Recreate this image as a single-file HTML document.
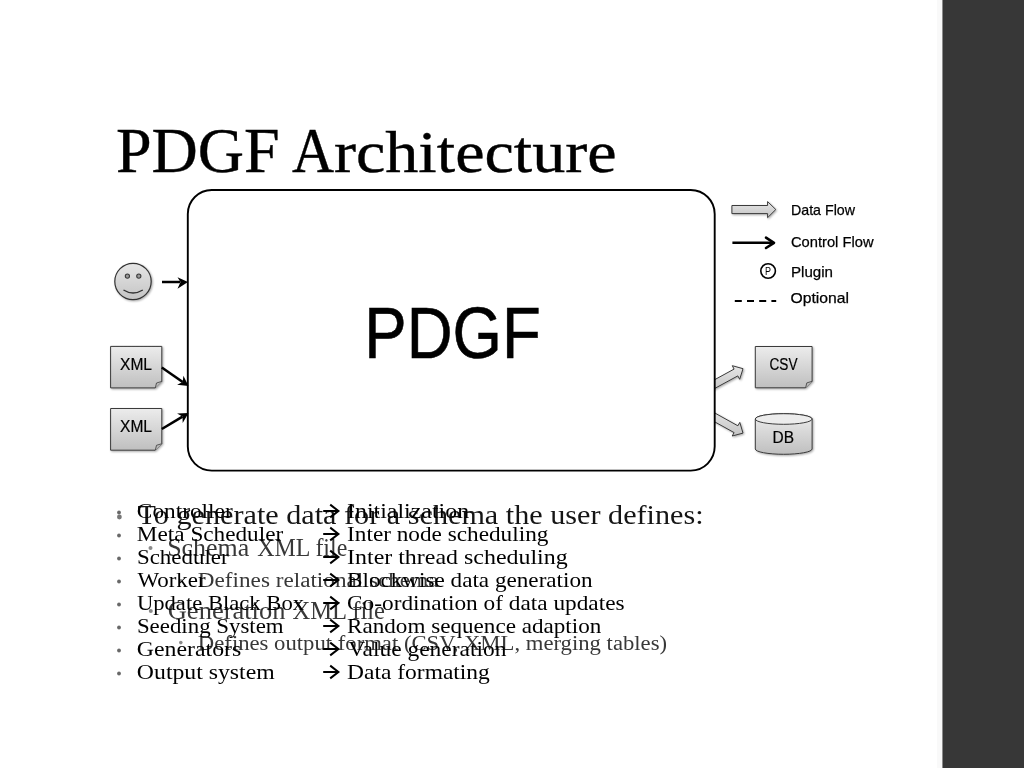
<!DOCTYPE html>
<html><head><meta charset="utf-8">
<style>
html,body{margin:0;padding:0;}
body{width:1024px;height:768px;position:relative;overflow:hidden;background:#fff;}
svg{position:absolute;left:0;top:0;will-change:transform;}
.serif{font-family:"Liberation Serif",serif;}
.sans{font-family:"Liberation Sans",sans-serif;}
</style></head>
<body>
<svg width="1024" height="768" viewBox="0 0 1024 768">
<defs>
  <linearGradient id="g1" x1="0" y1="0" x2="0" y2="1">
    <stop offset="0" stop-color="#ececec"/>
    <stop offset="1" stop-color="#bfbfbf"/>
  </linearGradient>
  <linearGradient id="g2" x1="0" y1="0" x2="0" y2="1">
    <stop offset="0" stop-color="#e6e6e6"/>
    <stop offset="1" stop-color="#c4c4c4"/>
  </linearGradient>
  <filter id="sh" x="-20%" y="-20%" width="150%" height="150%">
    <feGaussianBlur in="SourceAlpha" stdDeviation="1"/>
    <feOffset dx="1" dy="1" result="b"/>
    <feComponentTransfer><feFuncA type="linear" slope="0.35"/></feComponentTransfer>
    <feMerge><feMergeNode/><feMergeNode in="SourceGraphic"/></feMerge>
  </filter>
</defs>

<!-- right dark bar -->
<rect x="943" y="0" width="81" height="768" fill="#373737"/>
<rect x="937" y="0" width="5" height="768" fill="#f9f9f9"/>
<rect x="942" y="0" width="1" height="768" fill="#8c8c8c"/>

<!--TITLE-->
<text class="serif" x="116.00" y="172.2" font-size="64" textLength="163.73" lengthAdjust="spacingAndGlyphs" fill="#000" stroke="#000" stroke-width="0.4">PDGF</text>
<text class="serif" x="292.00" y="172.2" font-size="64" textLength="42.00" lengthAdjust="spacingAndGlyphs" fill="#000" stroke="#000" stroke-width="0.4">A</text>
<text class="serif" x="333.90" y="172.2" font-size="60" textLength="282.85" lengthAdjust="spacingAndGlyphs" fill="#000" stroke="#000" stroke-width="0.4">rchitecture</text>
<!--/TITLE-->

<!-- data flow arrows right (under box) -->
<g filter="url(#sh)" fill="url(#g2)" stroke="#3a3a3a" stroke-width="1">
  <polygon points="709.7,391.2 737.8,375.9 739.7,379.3 743.0,368.7 732.3,365.7 734.1,369.1 706.0,384.4"/>
  <polygon points="706.1,417.1 734.1,432.6 732.2,436.0 743.0,433.1 739.8,422.4 737.9,425.8 709.9,410.3"/>
</g>

<!-- main box -->
<rect x="187.8" y="190" width="526.9" height="280.6" rx="24" ry="24" fill="#fff" stroke="#000" stroke-width="1.9"/>
<text class="sans" x="364.3" y="357.8" font-size="73" textLength="176.4" lengthAdjust="spacingAndGlyphs" fill="#000" stroke="#000" stroke-width="0.6">PDGF</text>

<!-- smiley -->
<g filter="url(#sh)">
  <circle cx="133" cy="281.5" r="18.2" fill="url(#g2)" stroke="#333" stroke-width="1.2"/>
</g>
<circle cx="127.4" cy="276.1" r="2.1" fill="#9a9a9a" stroke="#3a3a3a" stroke-width="1.1"/>
<circle cx="138.8" cy="276.1" r="2.1" fill="#9a9a9a" stroke="#3a3a3a" stroke-width="1.1"/>
<path d="M123.5,290 Q133,296 142.8,290" fill="none" stroke="#333" stroke-width="1.3"/>
<!-- smiley arrow -->
<line x1="162" y1="282" x2="180" y2="282" stroke="#000" stroke-width="2.5"/>
<polygon points="177.5,277.3 188,282 177.5,288.7 180.5,282" fill="#000"/>

<!-- XML docs -->
<g filter="url(#sh)">
  <path d="M110.6,346.4 H161.8 V381.4 L155.3,387.9 H110.6 Z" fill="url(#g1)" stroke="#3a3a3a" stroke-width="1"/>
  <path d="M110.6,408.5 H161.8 V443.7 L155.3,450.2 H110.6 Z" fill="url(#g1)" stroke="#3a3a3a" stroke-width="1"/>
  <path d="M755.3,346.5 H812.1 V381.3 L805.6,387.8 H755.3 Z" fill="url(#g1)" stroke="#3a3a3a" stroke-width="1"/>
</g>
<path d="M155.3,387.9 L156.5,383 L161.8,381.4" fill="#bbb" stroke="#3a3a3a" stroke-width="0.8"/>
<path d="M155.3,450.2 L156.5,445.3 L161.8,443.7" fill="#bbb" stroke="#3a3a3a" stroke-width="0.8"/>
<path d="M805.6,387.8 L806.8,382.9 L812.1,381.3" fill="#bbb" stroke="#3a3a3a" stroke-width="0.8"/>
<text class="sans" x="120" y="370" font-size="16.5" textLength="32" lengthAdjust="spacingAndGlyphs" fill="#000" stroke="#000" stroke-width="0.2">XML</text>
<text class="sans" x="120" y="432" font-size="16.5" textLength="32" lengthAdjust="spacingAndGlyphs" fill="#000" stroke="#000" stroke-width="0.2">XML</text>
<text class="sans" x="769.5" y="369.7" font-size="16" textLength="28" lengthAdjust="spacingAndGlyphs" fill="#000" stroke="#000" stroke-width="0.2">CSV</text>

<!-- DB cylinder -->
<g filter="url(#sh)">
  <path d="M755.3,419 V449 A28.4,5.3 0 0 0 812.1,449 V419 A28.4,5.3 0 0 0 755.3,419 Z" fill="url(#g1)" stroke="#3a3a3a" stroke-width="1"/>
</g>
<ellipse cx="783.7" cy="419" rx="28.4" ry="5.3" fill="#ececec" stroke="#3a3a3a" stroke-width="1"/>
<text class="sans" x="772.5" y="442.8" font-size="16.3" textLength="21.5" lengthAdjust="spacingAndGlyphs" fill="#000" stroke="#000" stroke-width="0.2">DB</text>

<!-- XML arrows -->
<line x1="161.8" y1="367.5" x2="182.7" y2="382.0" stroke="#000" stroke-width="2.6"/><polygon points="177.1,384.8 188.5,386.0 183.4,375.8 182.7,382.0" fill="#000"/>
<line x1="161.8" y1="429.0" x2="182.5" y2="416.6" stroke="#000" stroke-width="2.6"/><polygon points="182.7,422.9 188.5,413.0 177.1,413.4 182.5,416.6" fill="#000"/>

<!-- legend -->
<g filter="url(#sh)">
  <polygon points="731.9,205.5 767.6,205.5 767.6,201.6 775.8,209.5 767.6,217.7 767.6,213.6 731.9,213.6" fill="url(#g2)" stroke="#3a3a3a" stroke-width="1"/>
</g>
<line x1="732.4" y1="242.8" x2="773" y2="242.8" stroke="#000" stroke-width="2.4"/>
<polyline points="766,237.6 774,242.8 766,248" fill="none" stroke="#000" stroke-width="2.6" stroke-linejoin="round" stroke-linecap="round"/>
<circle cx="768.1" cy="271" r="7.3" fill="#fff" stroke="#000" stroke-width="1.6"/>
<text class="sans" x="765" y="274.8" font-size="10.8" textLength="6" lengthAdjust="spacingAndGlyphs" fill="#000">P</text>
<line x1="734.8" y1="301" x2="776.2" y2="301" stroke="#000" stroke-width="2.2" stroke-dasharray="7,5.2"/>

<text class="sans" x="791" y="214.5" font-size="15" textLength="64" lengthAdjust="spacingAndGlyphs" fill="#000" stroke="#000" stroke-width="0.25">Data Flow</text>
<text class="sans" x="791" y="246.8" font-size="15" textLength="82.5" lengthAdjust="spacingAndGlyphs" fill="#000" stroke="#000" stroke-width="0.25">Control Flow</text>
<text class="sans" x="791" y="276.5" font-size="15" textLength="42" lengthAdjust="spacingAndGlyphs" fill="#000" stroke="#000" stroke-width="0.25">Plugin</text>
<text class="sans" x="790.5" y="302.9" font-size="15" textLength="58.5" lengthAdjust="spacingAndGlyphs" fill="#000" stroke="#000" stroke-width="0.25">Optional</text>

<!--LB-->
<circle cx="119.4" cy="517" r="2.4" fill="#777"/>
<text class="serif" x="137.50" y="524" font-size="26.7" textLength="566.14" lengthAdjust="spacingAndGlyphs" fill="#151515">To generate data for a schema the user defines:</text>
<circle cx="150.5" cy="548" r="2" fill="#8a8a8a"/>
<text class="serif" x="167.18" y="556.2" font-size="24.5" textLength="82.11" lengthAdjust="spacingAndGlyphs" fill="#383838">Schema</text>
<text class="serif" x="257.20" y="556.2" font-size="24.5" textLength="90.07" lengthAdjust="spacingAndGlyphs" fill="#383838">XML file</text>
<circle cx="180.8" cy="580.8" r="1.8" fill="#8a8a8a"/>
<text class="serif" x="197.87" y="586.5" font-size="20.5" textLength="240.62" lengthAdjust="spacingAndGlyphs" fill="#383838">Defines relational schema</text>
<circle cx="150.8" cy="611" r="2" fill="#8a8a8a"/>
<text class="serif" x="167.72" y="619.3" font-size="24.5" textLength="117.79" lengthAdjust="spacingAndGlyphs" fill="#383838">Generation</text>
<text class="serif" x="292.50" y="619.3" font-size="24.5" textLength="92.51" lengthAdjust="spacingAndGlyphs" fill="#383838">XML file</text>
<circle cx="180.8" cy="642.6" r="1.8" fill="#8a8a8a"/>
<text class="serif" x="197.89" y="649.6" font-size="20.5" textLength="469.21" lengthAdjust="spacingAndGlyphs" fill="#383838">Defines output format (CSV, XML, merging tables)</text>
<!--/LB-->

<!--LA-->
<circle cx="119" cy="512.5" r="1.9" fill="#686868"/>
<text class="serif" x="136.88" y="518" font-size="20.9" textLength="95.77" lengthAdjust="spacingAndGlyphs" fill="#000">Controller</text>
<path d="M323.2,511.0 H337.6 M330.2,504.6 L338.4,511.0 L330.2,517.4" fill="none" stroke="#000" stroke-width="2"/>
<text class="serif" x="347.06" y="518" font-size="20.9" textLength="122.09" lengthAdjust="spacingAndGlyphs" fill="#000">Initialization</text>
<circle cx="119" cy="535.5" r="1.9" fill="#686868"/>
<text class="serif" x="136.89" y="541" font-size="20.9" textLength="146.35" lengthAdjust="spacingAndGlyphs" fill="#000">Meta Scheduler</text>
<path d="M323.2,534.0 H337.6 M330.2,527.6 L338.4,534.0 L330.2,540.4" fill="none" stroke="#000" stroke-width="2"/>
<text class="serif" x="347.09" y="541" font-size="20.9" textLength="201.31" lengthAdjust="spacingAndGlyphs" fill="#000">Inter node scheduling</text>
<circle cx="119" cy="558.5" r="1.9" fill="#686868"/>
<text class="serif" x="136.90" y="564" font-size="20.9" textLength="91.68" lengthAdjust="spacingAndGlyphs" fill="#000">Scheduler</text>
<path d="M323.2,557.0 H337.6 M330.2,550.6 L338.4,557.0 L330.2,563.4" fill="none" stroke="#000" stroke-width="2"/>
<text class="serif" x="347.05" y="564" font-size="20.9" textLength="220.62" lengthAdjust="spacingAndGlyphs" fill="#000">Inter thread scheduling</text>
<circle cx="119" cy="581.5" r="1.9" fill="#686868"/>
<text class="serif" x="137.40" y="587" font-size="20.9" textLength="68.23" lengthAdjust="spacingAndGlyphs" fill="#000">Worker</text>
<path d="M323.2,580.0 H337.6 M330.2,573.6 L338.4,580.0 L330.2,586.4" fill="none" stroke="#000" stroke-width="2"/>
<text class="serif" x="347.09" y="587" font-size="20.9" textLength="245.57" lengthAdjust="spacingAndGlyphs" fill="#000">Blockwise data generation</text>
<circle cx="119" cy="604.5" r="1.9" fill="#686868"/>
<text class="serif" x="136.92" y="610" font-size="20.9" textLength="167.13" lengthAdjust="spacingAndGlyphs" fill="#000">Update Black Box</text>
<path d="M323.2,603.0 H337.6 M330.2,596.6 L338.4,603.0 L330.2,609.4" fill="none" stroke="#000" stroke-width="2"/>
<text class="serif" x="347.09" y="610" font-size="20.9" textLength="277.50" lengthAdjust="spacingAndGlyphs" fill="#000">Co-ordination of data updates</text>
<circle cx="119" cy="627.5" r="1.9" fill="#686868"/>
<text class="serif" x="136.91" y="633" font-size="20.9" textLength="146.74" lengthAdjust="spacingAndGlyphs" fill="#000">Seeding System</text>
<path d="M323.2,626.0 H337.6 M330.2,619.6 L338.4,626.0 L330.2,632.4" fill="none" stroke="#000" stroke-width="2"/>
<text class="serif" x="347.09" y="633" font-size="20.9" textLength="254.21" lengthAdjust="spacingAndGlyphs" fill="#000">Random sequence adaption</text>
<circle cx="119" cy="650.5" r="1.9" fill="#686868"/>
<text class="serif" x="136.86" y="656" font-size="20.9" textLength="104.47" lengthAdjust="spacingAndGlyphs" fill="#000">Generators</text>
<path d="M323.2,649.0 H337.6 M330.2,642.6 L338.4,649.0 L330.2,655.4" fill="none" stroke="#000" stroke-width="2"/>
<text class="serif" x="348.20" y="656" font-size="20.9" textLength="158.27" lengthAdjust="spacingAndGlyphs" fill="#000">Value generation</text>
<circle cx="119" cy="673.5" r="1.9" fill="#686868"/>
<text class="serif" x="136.86" y="679" font-size="20.9" textLength="137.86" lengthAdjust="spacingAndGlyphs" fill="#000">Output system</text>
<path d="M323.2,672.0 H337.6 M330.2,665.6 L338.4,672.0 L330.2,678.4" fill="none" stroke="#000" stroke-width="2"/>
<text class="serif" x="347.08" y="679" font-size="20.9" textLength="142.77" lengthAdjust="spacingAndGlyphs" fill="#000">Data formating</text>
<!--/LA-->
</svg>
</body></html>
